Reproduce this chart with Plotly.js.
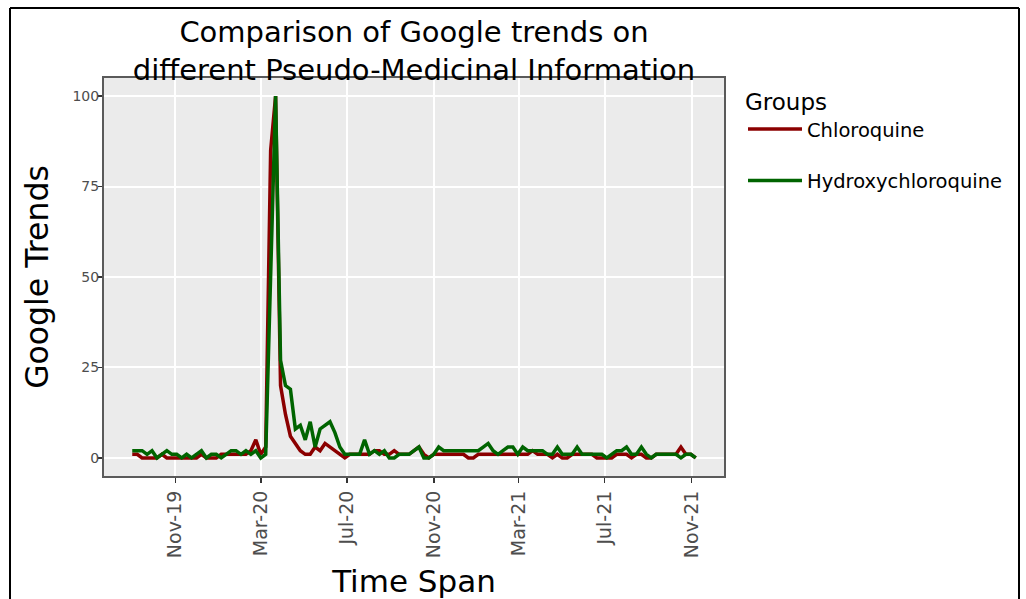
<!DOCTYPE html>
<html>
<head>
<meta charset="utf-8">
<script src="https://cdn.plot.ly/plotly-3.0.1.min.js"></script>
<style>
  html, body { margin: 0; padding: 0; background: #fff; }
  #chart { width: 1026px; height: 599px; }
</style>
</head>
<body>
<div id="chart"></div>
<script>
// Weekly dates (Google Trends weeks)
const weeks = [
  '2019-09-01','2019-09-08','2019-09-15','2019-09-22','2019-09-29','2019-10-06','2019-10-13','2019-10-20','2019-10-27',
  '2019-11-03','2019-11-10','2019-11-17','2019-11-24','2019-12-01','2019-12-08','2019-12-15','2019-12-22','2019-12-29',
  '2020-01-05','2020-01-12','2020-01-19','2020-01-26','2020-02-02','2020-02-09','2020-02-16','2020-02-23',
  '2020-03-01','2020-03-08','2020-03-15','2020-03-22','2020-03-29','2020-04-05','2020-04-12','2020-04-19','2020-04-26',
  '2020-05-03','2020-05-10','2020-05-17','2020-05-24','2020-05-31','2020-06-07','2020-06-14','2020-06-21','2020-06-28',
  '2020-07-05','2020-07-12','2020-07-19','2020-07-26','2020-08-02','2020-08-09','2020-08-16','2020-08-23','2020-08-30',
  '2020-09-06','2020-09-13','2020-09-20','2020-09-27','2020-10-04','2020-10-11','2020-10-18','2020-10-25',
  '2020-11-01','2020-11-08','2020-11-15','2020-11-22','2020-11-29','2020-12-06','2020-12-13','2020-12-20','2020-12-27',
  '2021-01-03','2021-01-10','2021-01-17','2021-01-24','2021-01-31','2021-02-07','2021-02-14','2021-02-21','2021-02-28',
  '2021-03-07','2021-03-14','2021-03-21','2021-03-28','2021-04-04','2021-04-11','2021-04-18','2021-04-25',
  '2021-05-02','2021-05-09','2021-05-16','2021-05-23','2021-05-30','2021-06-06','2021-06-13','2021-06-20','2021-06-27',
  '2021-07-04','2021-07-11','2021-07-18','2021-07-25','2021-08-01','2021-08-08','2021-08-15','2021-08-22','2021-08-29',
  '2021-09-05','2021-09-12','2021-09-19','2021-09-26','2021-10-03','2021-10-10','2021-10-17','2021-10-24','2021-10-31',
  '2021-11-07'
];

const chloroquine = [
  1,1,0,0,0,0,1,0,0,0,0,0,0,0,1,0,0,0,1,1,1,1,1,1,2,5,1,3,
  85,100,20,12,6,4,2,1,1,3,2,4,3,2,1,0,
  1,1,1,1,1,2,2,1,1,2,1,1,1,2,3,1,0,1,1,1,1,1,1,1,0,0,
  1,1,1,1,1,1,1,1,1,1,1,2,1,1,1,0,1,0,0,1,1,1,1,1,0,0,
  0,0,1,1,1,0,1,1,0,0,1,1,1,1,1,3,1,1,0
];

const hydroxychloroquine = [
  2,2,2,1,2,0,1,2,1,1,0,1,0,1,2,0,1,1,0,1,2,2,1,2,1,2,0,1,
  50,100,27,20,19,8,9,5,10,3,8,9,10,7,3,1,
  1,1,1,5,1,2,1,2,0,0,1,1,1,2,3,0,0,1,3,2,2,2,2,2,2,2,
  2,3,4,2,1,2,3,3,1,3,2,2,2,2,1,1,3,1,1,1,3,1,1,1,1,1,
  0,1,2,2,3,1,1,3,1,0,1,1,1,1,1,0,1,1,0
];

const tickDates = ['2019-11-01','2020-03-01','2020-07-01','2020-11-01','2021-03-01','2021-07-01','2021-11-01'];
const tickLabels = ['Nov-19','Mar-20','Jul-20','Nov-20','Mar-21','Jul-21','Nov-21'];
const yTicks = [0, 25, 50, 75, 100];

const traces = [
  {
    type: 'scatter', mode: 'lines', name: 'Chloroquine',
    x: weeks, y: chloroquine, legendgroup: 'a',
    line: { color: '#8B0000', width: 3.5 }
  },
  {
    type: 'scatter', mode: 'lines', name: 'Hydroxychloroquine',
    x: weeks, y: hydroxychloroquine, legendgroup: 'b',
    line: { color: '#006400', width: 3.5 }
  }
];

const PL = 104, PR = 724, PT = 78, PB = 476;
const pw = PR - PL, ph = PB - PT;
function px(x) { return (x - PL) / pw; }
function py(y) { return (PB - y) / ph; }

const layout = {
  width: 1026, height: 599,
  margin: { l: PL, r: 1026 - PR, t: PT, b: 599 - PB, pad: 0 },
  paper_bgcolor: '#ffffff',
  plot_bgcolor: '#EBEBEB',
  font: { family: 'DejaVu Sans, Verdana, sans-serif', color: '#000' },
  title: {
    text: 'Comparison of Google trends on<br>different Pseudo-Medicinal Information',
    font: { size: 29, color: '#000' },
    x: 0.5, xref: 'paper', xanchor: 'center',
    y: 1 - 42 / 599, yref: 'container', yanchor: 'top'
  },
  xaxis: {
    type: 'date',
    range: ['2019-07-23', '2021-12-17'],
    tickmode: 'array', tickvals: tickDates, ticktext: tickLabels,
    tickangle: -90,
    ticks: 'outside', ticklen: 5, tickwidth: 1.5, tickcolor: '#333333',
    tickfont: { size: 19, color: '#4d4d4d' },
    showgrid: true, gridcolor: '#ffffff', gridwidth: 2,
    zeroline: false,
    showline: true, mirror: true, linecolor: '#5a5a5a', linewidth: 2,
    title: { text: 'Time Span', font: { size: 31, color: '#000' }, standoff: 20 },
    automargin: false
  },
  yaxis: {
    range: [-5, 105],
    tickmode: 'array', tickvals: yTicks, ticktext: yTicks.map(String),
    ticks: 'outside', ticklen: 4, tickwidth: 1.5, tickcolor: '#333333',
    tickfont: { size: 14, color: '#4d4d4d' },
    ticklabelstandoff: -4,
    showgrid: true, gridcolor: '#ffffff', gridwidth: 2,
    zeroline: false,
    showline: true, mirror: true, linecolor: '#5a5a5a', linewidth: 2,
    title: { text: 'Google Trends', font: { size: 31.5, color: '#000' }, standoff: 14 },
    automargin: false
  },
  legend: {
    x: px(743), y: py(80), xanchor: 'left', yanchor: 'top',
    xref: 'paper', yref: 'paper',
    title: { text: 'Groups', font: { size: 23, color: '#000' } },
    font: { size: 19.5, color: '#000' },
    bgcolor: 'rgba(0,0,0,0)',
    tracegroupgap: 23,
    itemwidth: 54
  },
  shapes: [
    { type: 'line', xref: 'paper', yref: 'paper', x0: px(10), x1: px(1019), y0: py(8), y1: py(8), line: { color: '#000', width: 2 } },
    { type: 'line', xref: 'paper', yref: 'paper', x0: px(10), x1: px(10), y0: py(8), y1: py(610), line: { color: '#000', width: 2 } },
    { type: 'line', xref: 'paper', yref: 'paper', x0: px(1019), x1: px(1019), y0: py(8), y1: py(610), line: { color: '#000', width: 2 } }
  ],
  showlegend: true
};

Plotly.newPlot('chart', traces, layout, { displayModeBar: false, staticPlot: true });
</script>
</body>
</html>
